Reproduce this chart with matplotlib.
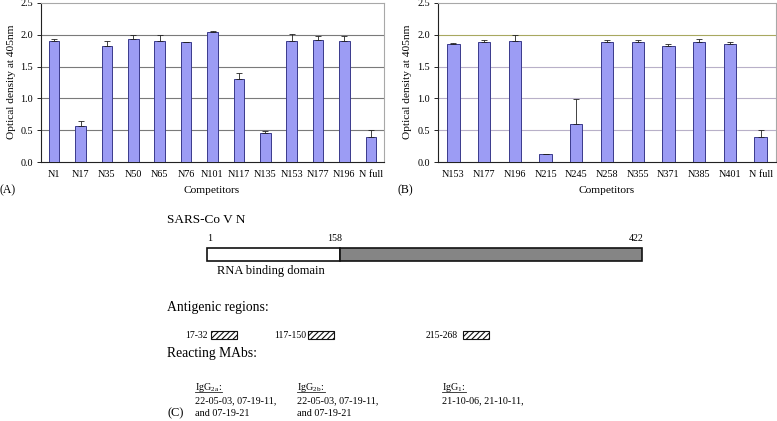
import numpy as np
import matplotlib
matplotlib.use("Agg")
import matplotlib.pyplot as plt
from matplotlib.patches import Rectangle

plt.rcParams['font.family'] = ['Liberation Serif', 'DejaVu Serif']
plt.rcParams['mathtext.fontset'] = 'stix'
plt.rcParams['hatch.linewidth'] = 0.8

# panel A data
comp_a = ['N1', 'N17', 'N35', 'N50', 'N65', 'N76', 'N101', 'N117', 'N135',
          'N153', 'N177', 'N196', 'N full']
od_a = [1.90, 0.57, 1.83, 1.93, 1.91, 1.88, 2.04, 1.31, 0.46, 1.91, 1.92, 1.91, 0.40]
err_a = [0.03, 0.08, 0.08, 0.07, 0.09, 0.01, 0.02, 0.09, 0.02, 0.10, 0.06, 0.07, 0.10]

# panel B data
comp_b = ['N153', 'N177', 'N196', 'N215', 'N245', 'N258', 'N355', 'N371', 'N385',
          'N401', 'N full']
od_b = [1.86, 1.88, 1.91, 0.12, 0.60, 1.88, 1.88, 1.82, 1.89, 1.86, 0.40]
err_b = [0.01, 0.04, 0.09, 0.00, 0.39, 0.04, 0.04, 0.04, 0.05, 0.02, 0.10]

yticks = [0.0, 0.5, 1.0, 1.5, 2.0, 2.5]

# schematic of N protein
domain_res = [1, 158, 422]
domain_labels = ['1', '158', '422']
antigenic = ['17-32', '117-150', '215-268']
mab_types = ['IgG$_{\\mathregular{2a}}$:', 'IgG$_{\\mathregular{2b}}$:', 'IgG$_{\\mathregular{1}}$:']
mab_lines = [['22-05-03, 07-19-11,', 'and 07-19-21'],
             ['22-05-03, 07-19-11,', 'and 07-19-21'],
             ['21-10-06, 21-10-11,']]

W, H = 777, 421
fig = plt.figure(figsize=(W / 100, H / 100), dpi=100)

BAR = '#9c9cf4'
EDGE = '#3a3a8c'


def bar_panel(ax, cats, vals, errs, grid_cols):
    x = np.arange(len(cats))
    ax.bar(x, vals, width=0.4, color=BAR, edgecolor=EDGE, linewidth=0.7, zorder=3)
    ax.errorbar(x, vals, yerr=[np.zeros(len(errs)), errs], fmt='none',
                ecolor='#222222', elinewidth=0.6, capsize=2, capthick=0.6, zorder=4)
    ax.set_xlim(-0.5, len(cats) - 0.5)
    ax.set_ylim(0, 2.5)
    ax.set_yticks(yticks)
    ax.set_yticklabels(['%.1f' % v for v in yticks], fontsize=7.3)
    ax.set_xticks(x)
    ax.set_xticklabels(cats, fontsize=7.3)
    ax.tick_params(axis='x', length=0, pad=6)
    ax.tick_params(axis='y', length=3, width=0.6, pad=3)
    for yv, c in zip(yticks[1:-1], grid_cols):
        ax.axhline(yv, color=c, lw=0.8, zorder=1)
    for s in ['top', 'right']:
        ax.spines[s].set_color('#a8a8a8')
        ax.spines[s].set_linewidth(0.8)
    for s in ['left', 'bottom']:
        ax.spines[s].set_color('#222222')
        ax.spines[s].set_linewidth(0.8)


axA = fig.add_axes([41 / W, 1 - 162 / H, 343 / W, 159 / H])
bar_panel(axA, comp_a, od_a, err_a, ['#7a7a7a'] * 4)
axB = fig.add_axes([438 / W, 1 - 162 / H, 338 / W, 159 / H])
bar_panel(axB, comp_b, od_b, err_b, ['#b8b0c8', '#b8b0c8', '#b8b0c8', '#a8a860'])

for xc, xl, lab, xp in [(212, 12, '(A)', 0), (607, 408, '(B)', 397)]:
    fig.text(xc / W, 1 - 191 / H, 'Competitors', ha='center', va='center', fontsize=8.2)
    fig.text(xl / W, 1 - 82 / H, 'Optical density at 405nm', rotation=90,
             ha='center', va='center', fontsize=8.2)
    fig.text(xp / W, 1 - 190 / H, lab, ha='left', va='center', fontsize=8.5)

# lower schematic, axes in pixel units
axC = fig.add_axes([0, 0, 1, 1])
axC.set_xlim(0, W)
axC.set_ylim(H, 0)
axC.axis('off')

bar_x = np.interp(domain_res, [1, 158, 422], [207, 340, 642])
axC.barh(254.5, bar_x[1] - bar_x[0], left=bar_x[0], height=13, color='white',
         edgecolor='#111111', linewidth=1.2)
axC.barh(254.5, bar_x[2] - bar_x[1], left=bar_x[1], height=13, color='#858585',
         edgecolor='#111111', linewidth=1.2)
for xv, lab, ha in zip(bar_x, domain_labels, ['left', 'right', 'right']):
    axC.text(xv + (0 if ha == 'left' else 2), 243, lab, ha=ha, va='bottom', fontsize=7.2)
axC.text(167, 220, 'SARS-Co V N', ha='left', va='center', fontsize=9.5)
axC.text(217, 271, 'RNA binding domain', ha='left', va='center', fontsize=9)

axC.text(167, 308, 'Antigenic regions:', ha='left', va='center', fontsize=9.8)
for lab, lx, bx in zip(antigenic, [185, 274, 426], [211, 308, 463]):
    axC.text(lx, 335, lab, ha='left', va='center', fontsize=7)
    axC.add_patch(Rectangle((bx, 331), 26, 8, facecolor='white', edgecolor='#111111',
                            hatch='//////', linewidth=0.8))

axC.text(167, 353, 'Reacting MAbs:', ha='left', va='center', fontsize=9.8)
fig.canvas.draw()
rend = fig.canvas.get_renderer()
for typ, lines, cx in zip(mab_types, mab_lines, [195, 297, 442]):
    t = axC.text(cx, 387, typ, ha='left', va='center', fontsize=7.3)
    bb = t.get_window_extent(renderer=rend)
    axC.plot([cx, cx + bb.width], [391.5, 391.5], color='#222222', lw=0.6)
    for i, ln in enumerate(lines):
        axC.text(cx, 401 + 13 * i, ln, ha='left', va='center', fontsize=7.3)
axC.text(167, 413, '(C)', ha='left', va='center', fontsize=9)

fig.savefig('out.png', dpi=100)
